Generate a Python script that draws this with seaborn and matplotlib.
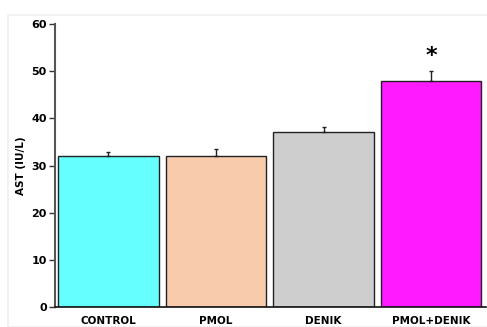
import matplotlib
matplotlib.use("Agg")
import matplotlib.pyplot as plt
import seaborn as sns
import pandas as pd

groups = ["CONTROL", "PMOL", "DENIK", "PMOL+DENIK"]
ast_mean = [32.0, 32.0, 37.0, 48.0]
ast_err = [0.9, 1.6, 1.1, 2.1]
bar_colors = ["#66FFFF", "#F8CBAD", "#CECECE", "#FF1AFF"]
y_ticks = [0, 10, 20, 30, 40, 50, 60]

sns.set_style("white")
plt.rcParams["font.family"] = ["DejaVu Sans"]
plt.rcParams["text.color"] = "black"
plt.rcParams["axes.labelcolor"] = "black"
plt.rcParams["xtick.color"] = "black"
plt.rcParams["ytick.color"] = "black"

df = pd.DataFrame({"group": groups, "ast": ast_mean})

fig = plt.figure(figsize=(4.87, 3.27), dpi=100)
fig.patches.append(plt.Rectangle((8 / 487, 0), 1, 1 - 15 / 327, transform=fig.transFigure,
                                 fill=False, edgecolor="#F0F0F0", linewidth=1.2, zorder=0))
ax = fig.add_axes([55 / 487, 20 / 327, 431 / 487, 283 / 327])

sns.barplot(data=df, x="group", y="ast", hue="group", palette=bar_colors, legend=False,
            saturation=1, width=0.935, edgecolor="#222222", linewidth=1.0,
            errorbar=None, ax=ax)

ax.errorbar(range(len(groups)), ast_mean, yerr=[[0] * len(groups), ast_err],
            fmt="none", ecolor="#222222", elinewidth=1.0, capsize=1.5, capthick=1.0)

# significance marker over the combined treatment
ax.text(3, ast_mean[3] + ast_err[3] + 1.0, "*", ha="center", va="bottom",
        fontsize=16, fontweight="bold", color="black")

ax.set_xlim(-0.495, 3.51)
ax.set_ylim(0, 60)
ax.set_yticks(y_ticks)
ax.set_yticklabels([str(t) for t in y_ticks], fontsize=8, fontweight="bold")
ax.set_xticks(range(len(groups)))
ax.set_xticklabels(groups, fontsize=7.5, fontweight="bold")
ax.set_xlabel("")
ax.set_ylabel("AST (IU/L)", fontsize=7.5, fontweight="bold", labelpad=4)

for side in ["top", "right"]:
    ax.spines[side].set_visible(False)
ax.spines["left"].set_color("#555555")
ax.spines["left"].set_linewidth(1.5)
ax.spines["bottom"].set_color("#111111")
ax.spines["bottom"].set_linewidth(1.2)
ax.tick_params(axis="y", which="both", left=True, length=4, width=1, color="#333333", pad=2)
ax.tick_params(axis="x", which="both", bottom=False, pad=3)

fig.savefig("out.png", dpi=100)
